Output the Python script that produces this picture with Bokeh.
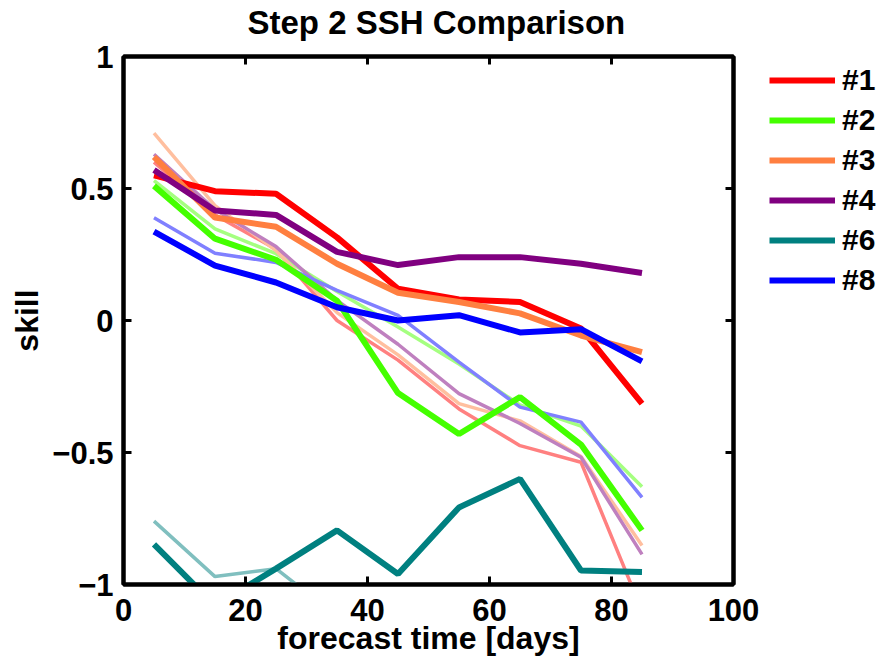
from bokeh.plotting import figure
from bokeh.layouts import row
from bokeh.models import (Range1d, FixedTicker, LinearAxis, Legend, LegendItem,
                          CustomJSTickFormatter)
from bokeh.embed import file_html
from bokeh.resources import INLINE

nan = float("nan")

# ---------------- data ----------------
days = [5, 15, 25, 35, 45, 55, 65, 75, 85]

labels = ["#1", "#2", "#3", "#4", "#6", "#8"]

# bold (main) series
s1 = [0.55, 0.49, 0.48, 0.315, 0.12, 0.08, 0.07, -0.03, -0.315]
s2 = [0.51, 0.31, 0.23, 0.075, -0.275, -0.43, -0.29, -0.47, -0.795]
s3 = [0.62, 0.39, 0.355, 0.215, 0.105, 0.07, 0.027, -0.057, -0.12]
s4 = [0.57, 0.417, 0.40, 0.26, 0.21, 0.24, 0.24, 0.215, 0.18]
s6 = [-0.848, -1.08, -0.94, -0.795, -0.96, -0.708, -0.60, -0.947, -0.953]
s8 = [0.337, 0.208, 0.144, 0.05, 0.0, 0.02, -0.045, -0.033, -0.155]

# light (secondary) series
l1 = [0.60, 0.40, 0.27, 0.0, -0.15, -0.335, -0.474, -0.537, -1.10]
l2 = [0.53, 0.347, 0.253, 0.11, -0.025, -0.165, -0.32, -0.40, -0.63]
l3 = [0.71, 0.435, 0.265, 0.03, -0.13, -0.315, -0.38, -0.515, -0.852]
l4 = [0.63, 0.42, 0.28, 0.076, -0.09, -0.277, -0.39, -0.518, -0.886]
l6 = [-0.76, -0.97, -0.94, -1.12, nan, nan, nan, nan, nan]
l8 = [0.389, 0.255, 0.22, 0.114, 0.019, -0.158, -0.328, -0.385, -0.67]

x_ticks = [0, 20, 40, 60, 80, 100]
y_ticks = [-1, -0.5, 0, 0.5, 1]
y_tick_labels = ["\u22121", "\u22120.5", "0", "0.5", "1"]

bold_series = [s1, s2, s3, s4, s6, s8]
light_series = [l1, l2, l3, l4, l6, l8]
bold_colors = ["#FF0000", "#44FF00", "#FF7F40", "#800080", "#008080", "#0000FF"]
light_colors = ["#FF8080", "#A5FF80", "#FFBF9F", "#BF80BF", "#80BFBF", "#8080FF"]

FONT = "Liberation Sans"

p = figure(width=760, height=668, output_backend="svg", toolbar_location=None,
           x_range=Range1d(0, 100), y_range=Range1d(-1, 1),
           min_border_left=123, min_border_right=27,
           min_border_top=56, min_border_bottom=84)
p.background_fill_color = "white"
p.border_fill_color = "white"
p.grid.visible = False
p.outline_line_color = "black"
p.outline_line_width = 4

p.title.text = "Step 2 SSH Comparison"
p.title.align = "left"
p.title.vertical_align = "bottom"
p.title.offset = 124
p.title.text_font = FONT
p.title.text_font_size = "33px"
p.title.text_font_style = "bold"
p.title.text_color = "black"
p.title.standoff = 0

def style_axis(ax):
    ax.axis_line_color = "black"
    ax.axis_line_width = 4
    ax.major_tick_in = 8
    ax.major_tick_out = 0
    ax.major_tick_line_width = 3
    ax.minor_tick_line_color = None
    ax.major_label_text_font = FONT
    ax.major_label_text_font_size = "31px"
    ax.major_label_text_font_style = "bold"
    ax.major_label_text_color = "black"
    ax.axis_label_text_font = FONT
    ax.axis_label_text_font_size = "32px"
    ax.axis_label_text_font_style = "bold"
    ax.axis_label_text_color = "black"

xa = p.xaxis[0]
ya = p.yaxis[0]
style_axis(xa)
style_axis(ya)
xa.ticker = FixedTicker(ticks=x_ticks)
ya.ticker = FixedTicker(ticks=y_ticks)
ya.major_label_overrides = {t: s for t, s in zip(y_ticks, y_tick_labels)}
xa.axis_label = "forecast time [days]"
ya.axis_label = "skill"
xa.major_label_standoff = 14
ya.major_label_standoff = 10
xa.axis_label_standoff = -4
ya.axis_label_standoff = 4

empty = CustomJSTickFormatter(code="return ''")
top = LinearAxis(ticker=FixedTicker(ticks=x_ticks), formatter=empty)
right = LinearAxis(ticker=FixedTicker(ticks=y_ticks), formatter=empty)
for ax in (top, right):
    style_axis(ax)
    ax.major_label_standoff = 0
p.add_layout(top, "above")
p.add_layout(right, "right")

# invisible spacer axis that lifts the title away from the box
spacer = LinearAxis(ticker=FixedTicker(ticks=x_ticks), formatter=empty)
spacer.axis_line_color = None
spacer.major_tick_line_color = None
spacer.minor_tick_line_color = None
spacer.major_tick_in = 0
spacer.major_tick_out = 16
spacer.major_label_standoff = 0
p.add_layout(spacer, "above")

for ys, c in zip(light_series, light_colors):
    p.line(days, ys, line_color=c, line_width=3.5)

for ys, c in zip(bold_series, bold_colors):
    p.line(days, ys, line_color=c, line_width=6)

# legend panel on the right (same series, renderers hidden; only the legend shows)
q = figure(width=123, height=668, output_backend="svg", toolbar_location=None,
           x_axis_type=None, y_axis_type=None, min_border=0,
           x_range=Range1d(0, 100), y_range=Range1d(-1, 1))
q.outline_line_color = None
q.grid.visible = False
q.background_fill_color = "white"
q.border_fill_color = "white"
leg_renderers = []
for ys, c in zip(bold_series, bold_colors):
    r = q.line(days, ys, line_color=c, line_width=6, visible=False)
    leg_renderers.append(r)

legend = Legend(items=[LegendItem(label=l, renderers=[r]) for l, r in zip(labels, leg_renderers)],
                location=(9, 284), orientation="vertical",
                border_line_color=None, background_fill_alpha=0,
                inactive_fill_alpha=0,
                glyph_width=66, glyph_height=40, label_height=40,
                spacing=0, padding=0, margin=0, label_standoff=7,
                label_text_font=FONT, label_text_font_size="30px",
                label_text_font_style="bold", label_text_color="black")
q.add_layout(legend)

open("out.html", "w").write(file_html(row(p, q), INLINE))
